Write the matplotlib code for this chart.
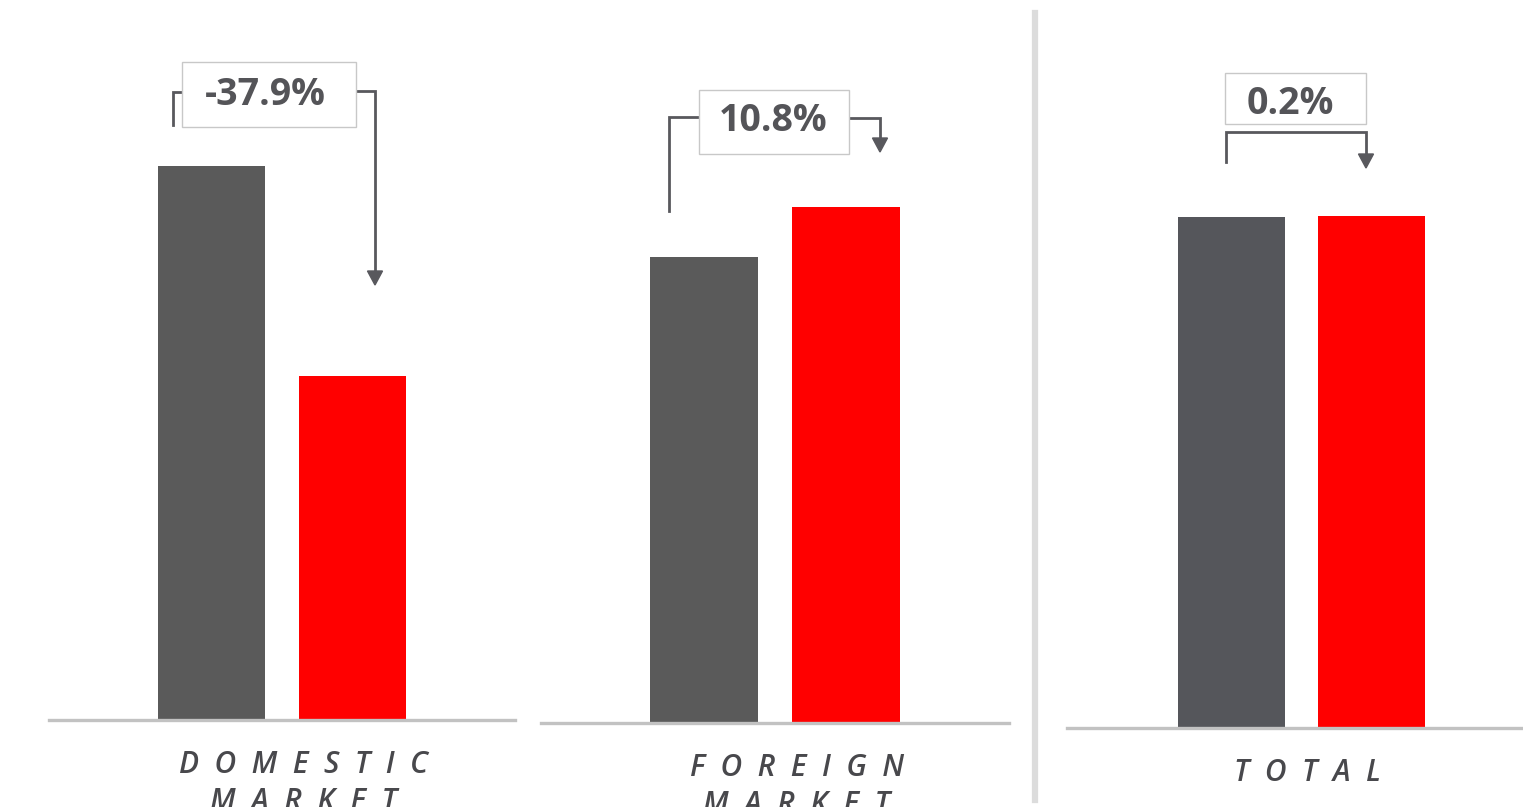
import matplotlib
matplotlib.use("Agg")
import matplotlib.pyplot as plt
from matplotlib.patches import Rectangle, Polygon
from matplotlib.lines import Line2D

W, H = 1523, 807

# ---- data ----
categories = ["D  O  M  E  S  T  I  C\nM  A  R  K  E  T",
              "F  O  R  E  I  G  N\nM  A  R  K  E  T",
              "T  O  T  A  L"]
previous = [554, 466, 511]
current = [344, 516, 512]
changes = ["-37.9%", "10.8%", "0.2%"]

prev_colors = ["#5a5a5a", "#5a5a5a", "#55565b"]
curr_color = "#ff0000"
ink = "#58585d"

# ---- layout (pixels) ----
panels = [
    dict(left=49, right=515, base=720, c0=211.5, c1=352, bw=107, lab_dx=22,
         box=(182, 62, 356, 127), txt=(265, 95),
         paths=[[(173, 125), (173, 92), (182, 92)],
                [(356, 91), (375, 91), (375, 272)]],
         tip=(375, 285)),
    dict(left=541, right=1009, base=723, c0=704, c1=845.5, bw=108, lab_dx=22,
         box=(699, 90, 849, 154), txt=(773, 121),
         paths=[[(669, 211), (669, 117), (699, 117)],
                [(849, 118), (880, 118), (880, 140)]],
         tip=(880, 152)),
    dict(left=1067, right=1523, base=728, c0=1231, c1=1371.5, bw=107, lab_dx=6,
         box=(1225, 73, 1366, 124), txt=(1290, 104),
         paths=[[(1226, 162), (1226, 132), (1366, 132), (1366, 156)]],
         tip=(1366, 168)),
]

fig = plt.figure(figsize=(W / 100, H / 100), dpi=100)
fig.patch.set_facecolor("white")

for i, p in enumerate(panels):
    u = p["c1"] - p["c0"]
    ax = fig.add_axes([p["left"] / W, (H - p["base"]) / H,
                       (p["right"] - p["left"]) / W, p["base"] / H])
    ax.set_xlim((p["left"] - p["c0"]) / u, (p["right"] - p["c0"]) / u)
    ax.set_ylim(0, p["base"])
    ax.axis("off")

    ax.bar([0, 1], [previous[i], current[i]], width=p["bw"] / u,
           color=[prev_colors[i], curr_color], zorder=2)
    ax.axhline(0, color="#c2c2c2", lw=2.4, zorder=3, clip_on=False)

    inv = ax.transData.inverted()

    def d(pt):
        return inv.transform((pt[0], H - pt[1]))

    # label
    ax.text(0.5 + p["lab_dx"] / u, -30, categories[i], ha="center", va="top",
            fontsize=21.5, style="italic", fontweight="semibold",
            color="#48484c", family="Open Sans", linespacing=1.3,
            clip_on=False)

    # connectors
    for path in p["paths"]:
        pts = [d(q) for q in path]
        ax.add_line(Line2D([q[0] for q in pts], [q[1] for q in pts],
                           color=ink, lw=2.0, clip_on=False, zorder=4,
                           solid_joinstyle="miter"))
    tx, ty = p["tip"]
    tri = [d((tx - 7.5, ty - 14)), d((tx + 7.5, ty - 14)), d((tx, ty))]
    ax.add_patch(Polygon(tri, closed=True, color=ink, clip_on=False, zorder=4))

    # box
    x0, y0, x1, y1 = p["box"]
    a = d((x0, y1))
    b = d((x1, y0))
    ax.add_patch(Rectangle(a, b[0] - a[0], b[1] - a[1], facecolor="white",
                           edgecolor="#c8c8c8", lw=1.0, clip_on=False, zorder=5))
    t = d(p["txt"])
    ax.text(t[0], t[1], changes[i], ha="center", va="center", fontsize=27,
            fontweight="bold", color="#545458", family="Open Sans",
            zorder=6, clip_on=False)

# separator
fig.add_artist(Line2D([1035 / W, 1035 / W], [1 - 13 / H, 1 - 800 / H],
                      transform=fig.transFigure, color="#dcdcdc", lw=4.5))

fig.savefig("out.png", dpi=100)
